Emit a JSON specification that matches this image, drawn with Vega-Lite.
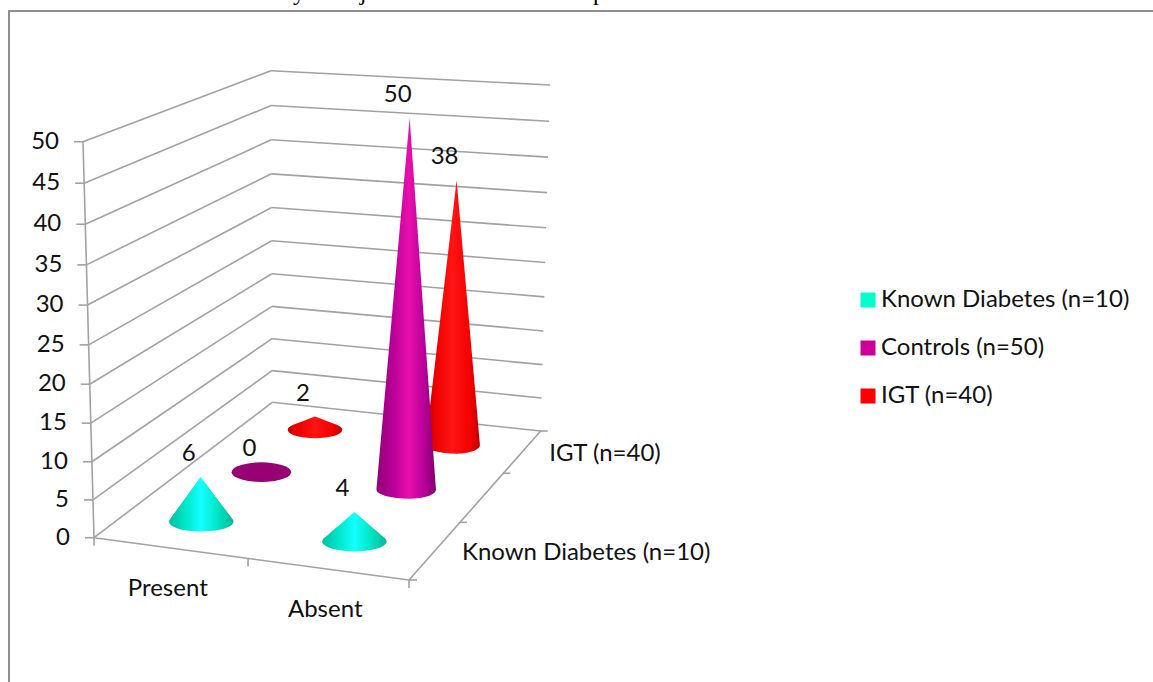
{
  "$schema": "https://vega.github.io/schema/vega-lite/v6.json",
  "width": 1163,
  "height": 682,
  "padding": {"left": 9, "top": 11, "right": -19, "bottom": -11},
  "autosize": {"type": "none"},
  "background": "white",
  "config": {
    "view": {"stroke": "#8f8f8f", "strokeWidth": 2, "fill": null},
    "text": {"font": "Lato", "fontSize": 24, "fill": "#111111"}
  },
  "datasets": {
    "cones": [
      {"category": "Present", "series": "Known Diabetes (n=10)", "value": 6},
      {"category": "Absent", "series": "Known Diabetes (n=10)", "value": 4},
      {"category": "Present", "series": "Controls (n=50)", "value": 0},
      {"category": "Absent", "series": "Controls (n=50)", "value": 50},
      {"category": "Present", "series": "IGT (n=40)", "value": 2},
      {"category": "Absent", "series": "IGT (n=40)", "value": 38}
    ],
    "valueTicks": [
      {"tick": 0}, {"tick": 5}, {"tick": 10}, {"tick": 15}, {"tick": 20}, {"tick": 25},
      {"tick": 30}, {"tick": 35}, {"tick": 40}, {"tick": 45}, {"tick": 50}
    ],
    "categoryTicks": [{"edge": 0}, {"edge": 0.489}, {"edge": 1}],
    "depthTicks": [{"depth": 1}, {"depth": 2}, {"depth": 3}],
    "categoryLabels": [
      {"label": "Present", "u": 0.25},
      {"label": "Absent", "u": 0.75}
    ],
    "depthLabels": [
      {"label": "Known Diabetes (n=10)", "depth": 0.5},
      {"label": "IGT (n=40)", "depth": 2.5}
    ],
    "captionGlyphs": [
      {"glyph": "y", "pos": 300},
      {"glyph": "j", "pos": 364},
      {"glyph": "p", "pos": 600}
    ]
  },
  "layer": [
    {
      "data": {"name": "cones"},
      "transform": [
        {"calculate": "datum.category === 'Present' ? 0.24 : 0.74", "as": "u"},
        {"calculate": "datum.series === 'Known Diabetes (n=10)' ? 0.5 : datum.series === 'Controls (n=50)' ? 1.5 : 2.5", "as": "v"},
        {"calculate": "0.4208 * datum.v / (1 + 0.0875 * datum.v) - 0.012", "as": "t"},
        {"calculate": "95 + 315 * datum.u + (178.3 - 46.6 * datum.u) * datum.t + 6 * pow(datum.t, 4)", "as": "cx"},
        {"calculate": "537.7 + 42.3 * datum.u + (-135.4 - 13.6 * datum.u) * datum.t", "as": "cy"}
      ],
      "mark": {"type": "square", "size": 4, "opacity": 1, "filled": true},
      "encoding": {
        "x": {"field": "cx", "type": "quantitative", "scale": {"domain": [10, 1173], "nice": false, "zero": false}, "axis": null},
        "y": {"field": "cy", "type": "quantitative", "scale": {"domain": [11, 693], "reverse": true, "nice": false, "zero": false}, "axis": null},
        "color": {
          "field": "series",
          "type": "nominal",
          "scale": {
            "domain": ["Known Diabetes (n=10)", "Controls (n=50)", "IGT (n=40)"],
            "range": ["#00ffcc", "#cc0099", "#ff0000"]
          },
          "legend": {
            "orient": "none",
            "legendX": 847,
            "legendY": 277,
            "title": null,
            "symbolType": "square",
            "symbolSize": 225,
            "symbolStrokeWidth": 0,
            "symbolOpacity": 1,
            "labelFont": "Lato",
            "labelFontSize": 24,
            "labelColor": "#111111",
            "labelOffset": 1,
            "rowPadding": 24,
            "labelLimit": 320
          }
        }
      }
    },
    {
      "data": {"name": "valueTicks"},
      "transform": [
        {"calculate": "0.9493 * (datum.tick / 50) / (1 - 0.0507 * datum.tick / 50)", "as": "lift"},
        {"calculate": "95 - 11 * datum.lift", "as": "fx"},
        {"calculate": "537.7 - 396 * datum.lift", "as": "fy"},
        {"calculate": "273.3 - 1.3 * datum.lift", "as": "bx"},
        {"calculate": "402.3 - 331.6 * datum.lift", "as": "by"}
      ],
      "mark": {"type": "rule", "color": "#a2a2a2", "strokeWidth": 1.6},
      "encoding": {
        "x": {"field": "fx", "type": "quantitative"},
        "y": {"field": "fy", "type": "quantitative"},
        "x2": {"field": "bx"},
        "y2": {"field": "by"}
      }
    },
    {
      "data": {"name": "valueTicks"},
      "transform": [
        {"calculate": "0.9493 * (datum.tick / 50) / (1 - 0.0507 * datum.tick / 50)", "as": "lift"},
        {"calculate": "273.3 - 1.3 * datum.lift", "as": "bx"},
        {"calculate": "402.3 - 331.6 * datum.lift", "as": "by"},
        {"calculate": "541.7 + 9.3 * datum.lift", "as": "rx"},
        {"calculate": "431 - 346 * datum.lift", "as": "ry"}
      ],
      "mark": {"type": "rule", "color": "#a2a2a2", "strokeWidth": 1.6},
      "encoding": {
        "x": {"field": "bx", "type": "quantitative"},
        "y": {"field": "by", "type": "quantitative"},
        "x2": {"field": "rx"},
        "y2": {"field": "ry"}
      }
    },
    {
      "data": {"name": "valueTicks"},
      "transform": [
        {"calculate": "0.9493 * (datum.tick / 50) / (1 - 0.0507 * datum.tick / 50)", "as": "lift"},
        {"calculate": "95 - 11 * datum.lift", "as": "fx"},
        {"calculate": "537.7 - 396 * datum.lift", "as": "fy"},
        {"calculate": "datum.fx - 9", "as": "tx"}
      ],
      "mark": {"type": "rule", "color": "#a2a2a2", "strokeWidth": 1.6},
      "encoding": {
        "x": {"field": "tx", "type": "quantitative"},
        "y": {"field": "fy", "type": "quantitative"},
        "x2": {"field": "fx"}
      }
    },
    {
      "data": {"name": "valueTicks"},
      "transform": [
        {"filter": "datum.tick === 0"},
        {"calculate": "95", "as": "fx"},
        {"calculate": "84", "as": "topx"},
        {"calculate": "537.7", "as": "fy"},
        {"calculate": "141.7", "as": "topy"}
      ],
      "mark": {"type": "rule", "color": "#a2a2a2", "strokeWidth": 1.6},
      "encoding": {
        "x": {"field": "fx", "type": "quantitative"},
        "y": {"field": "fy", "type": "quantitative"},
        "x2": {"field": "topx"},
        "y2": {"field": "topy"}
      }
    },
    {
      "data": {"name": "valueTicks"},
      "transform": [
        {"filter": "datum.tick === 0"},
        {"calculate": "95", "as": "ax"},
        {"calculate": "410", "as": "bx"},
        {"calculate": "537.7", "as": "ay"},
        {"calculate": "580", "as": "by"}
      ],
      "mark": {"type": "rule", "color": "#a2a2a2", "strokeWidth": 1.6},
      "encoding": {
        "x": {"field": "ax", "type": "quantitative"},
        "y": {"field": "ay", "type": "quantitative"},
        "x2": {"field": "bx"},
        "y2": {"field": "by"}
      }
    },
    {
      "data": {"name": "valueTicks"},
      "transform": [
        {"filter": "datum.tick === 0"},
        {"calculate": "410", "as": "bx"},
        {"calculate": "541.7", "as": "cx"},
        {"calculate": "580", "as": "by"},
        {"calculate": "431", "as": "cy"}
      ],
      "mark": {"type": "rule", "color": "#a2a2a2", "strokeWidth": 1.6},
      "encoding": {
        "x": {"field": "bx", "type": "quantitative"},
        "y": {"field": "by", "type": "quantitative"},
        "x2": {"field": "cx"},
        "y2": {"field": "cy"}
      }
    },
    {
      "data": {"name": "categoryTicks"},
      "transform": [
        {"calculate": "95 + 315 * datum.edge", "as": "ex"},
        {"calculate": "537.7 + 42.3 * datum.edge", "as": "ey"},
        {"calculate": "datum.ey + 8", "as": "ey2"}
      ],
      "mark": {"type": "rule", "color": "#a2a2a2", "strokeWidth": 1.6},
      "encoding": {
        "x": {"field": "ex", "type": "quantitative"},
        "y": {"field": "ey", "type": "quantitative"},
        "y2": {"field": "ey2"}
      }
    },
    {
      "data": {"name": "depthTicks"},
      "transform": [
        {"calculate": "0.4208 * datum.depth / (1 + 0.0875 * datum.depth)", "as": "t"},
        {"calculate": "410 + 131.7 * datum.t", "as": "ex"},
        {"calculate": "580 - 149 * datum.t", "as": "ey"},
        {"calculate": "datum.ex + 7", "as": "ex2"}
      ],
      "mark": {"type": "rule", "color": "#a2a2a2", "strokeWidth": 1.6},
      "encoding": {
        "x": {"field": "ex", "type": "quantitative"},
        "y": {"field": "ey", "type": "quantitative"},
        "x2": {"field": "ex2"}
      }
    },
    {
      "data": {"name": "valueTicks"},
      "transform": [
        {"filter": "datum.tick === 0"},
        {"calculate": "410", "as": "ex"},
        {"calculate": "580", "as": "ey"},
        {"calculate": "418", "as": "ex2"}
      ],
      "mark": {"type": "rule", "color": "#a2a2a2", "strokeWidth": 1.6},
      "encoding": {
        "x": {"field": "ex", "type": "quantitative"},
        "y": {"field": "ey", "type": "quantitative"},
        "x2": {"field": "ex2"}
      }
    },
    {
      "data": {"name": "cones"},
      "transform": [
        {"filter": "datum.series === 'IGT (n=40)' && datum.value > 0"},
        {"calculate": "datum.category === 'Present' ? 0.24 : 0.74", "as": "u"},
        {"calculate": "2.5", "as": "v"},
        {"calculate": "0.4208 * datum.v / (1 + 0.0875 * datum.v) - 0.012", "as": "t"},
        {"calculate": "95 + 315 * datum.u + (178.3 - 46.6 * datum.u) * datum.t + 6 * pow(datum.t, 4)", "as": "cx"},
        {"calculate": "537.7 + 42.3 * datum.u + (-135.4 - 13.6 * datum.u) * datum.t", "as": "cy"},
        {"calculate": "33.5 - 2.5 * datum.v", "as": "hw"},
        {"calculate": "0.31 * datum.hw", "as": "hh"},
        {"calculate": "0.9493 * (datum.value / 50) / (1 - 0.0507 * datum.value / 50)", "as": "lift"},
        {"calculate": "(396 - 11 * datum.u + (-64.4 + 25.4 * datum.u) * pow(datum.t, 1.7)) * datum.lift", "as": "H"},
        {"calculate": "(-11 + 15.3 * datum.u + (9 - 4.3 * datum.u) * datum.t) * datum.lift", "as": "lean"},
        {"calculate": "datum.H / datum.hh", "as": "d"},
        {"calculate": "sqrt(1 - 1 / (datum.d * datum.d))", "as": "s0"},
        {"calculate": "[-1,-0.985,-0.95,-0.9,-0.8,-0.75,-0.65,-0.45,-0.2,0,0.2,0.45,0.65,0.75,0.8,0.9,0.95,0.985,1]", "as": "s"},
        {"flatten": ["s"]},
        {"calculate": "datum.cx + datum.lean * (1 - abs(datum.s)) + datum.s * datum.hw", "as": "px"},
        {"calculate": "abs(datum.s) < datum.s0 ? datum.cy - datum.H + (datum.H - datum.hh / datum.d) * abs(datum.s) / datum.s0 : datum.cy - datum.hh * sqrt(1 - datum.s * datum.s)", "as": "ptop"},
        {"calculate": "datum.cy + datum.hh * sqrt(1 - datum.s * datum.s)", "as": "pbot"}
      ],
      "mark": {
        "type": "area",
        "interpolate": "linear",
        "line": false,
        "fill": {
          "gradient": "linear", "x1": 0, "x2": 1, "y1": 0, "y2": 0,
          "stops": [
            {"offset": 0, "color": "#c40000"},
            {"offset": 0.18, "color": "#ec0000"},
            {"offset": 0.5, "color": "#ff1414"},
            {"offset": 0.82, "color": "#f40000"},
            {"offset": 1, "color": "#c00000"}
          ]
        }
      },
      "encoding": {
        "x": {"field": "px", "type": "quantitative"},
        "y": {"field": "ptop", "type": "quantitative"},
        "y2": {"field": "pbot"},
        "detail": {"field": "category"}
      }
    },
    {
      "data": {"name": "cones"},
      "transform": [
        {"filter": "datum.series === 'Controls (n=50)' && datum.value === 0"},
        {"calculate": "datum.category === 'Present' ? 0.24 : 0.74", "as": "u"},
        {"calculate": "1.5", "as": "v"},
        {"calculate": "0.4208 * datum.v / (1 + 0.0875 * datum.v) - 0.012", "as": "t"},
        {"calculate": "95 + 315 * datum.u + (178.3 - 46.6 * datum.u) * datum.t + 6 * pow(datum.t, 4)", "as": "cx"},
        {"calculate": "537.7 + 42.3 * datum.u + (-135.4 - 13.6 * datum.u) * datum.t", "as": "cy"},
        {"calculate": "33.5 - 2.5 * datum.v", "as": "hw"},
        {"calculate": "0.33 * datum.hw", "as": "hh"},
        {"calculate": "[-1,-0.985,-0.95,-0.9,-0.8,-0.65,-0.45,-0.2,0,0.2,0.45,0.65,0.8,0.9,0.95,0.985,1]", "as": "s"},
        {"flatten": ["s"]},
        {"calculate": "datum.cx + datum.s * datum.hw", "as": "px"},
        {"calculate": "datum.cy - datum.hh * sqrt(1 - datum.s * datum.s)", "as": "ptop"},
        {"calculate": "datum.cy + datum.hh * sqrt(1 - datum.s * datum.s)", "as": "pbot"}
      ],
      "mark": {"type": "area", "interpolate": "linear", "line": false, "fill": "#990073"},
      "encoding": {
        "x": {"field": "px", "type": "quantitative"},
        "y": {"field": "ptop", "type": "quantitative"},
        "y2": {"field": "pbot"},
        "detail": {"field": "category"}
      }
    },
    {
      "data": {"name": "cones"},
      "transform": [
        {"filter": "datum.series === 'Controls (n=50)' && datum.value > 0"},
        {"calculate": "datum.category === 'Present' ? 0.24 : 0.74", "as": "u"},
        {"calculate": "1.5", "as": "v"},
        {"calculate": "0.4208 * datum.v / (1 + 0.0875 * datum.v) - 0.012", "as": "t"},
        {"calculate": "95 + 315 * datum.u + (178.3 - 46.6 * datum.u) * datum.t + 6 * pow(datum.t, 4)", "as": "cx"},
        {"calculate": "537.7 + 42.3 * datum.u + (-135.4 - 13.6 * datum.u) * datum.t", "as": "cy"},
        {"calculate": "33.5 - 2.5 * datum.v", "as": "hw"},
        {"calculate": "0.31 * datum.hw", "as": "hh"},
        {"calculate": "0.9493 * (datum.value / 50) / (1 - 0.0507 * datum.value / 50)", "as": "lift"},
        {"calculate": "(396 - 11 * datum.u + (-64.4 + 25.4 * datum.u) * pow(datum.t, 1.7)) * datum.lift", "as": "H"},
        {"calculate": "(-11 + 15.3 * datum.u + (9 - 4.3 * datum.u) * datum.t) * datum.lift", "as": "lean"},
        {"calculate": "datum.H / datum.hh", "as": "d"},
        {"calculate": "sqrt(1 - 1 / (datum.d * datum.d))", "as": "s0"},
        {"calculate": "[-1,-0.985,-0.95,-0.9,-0.8,-0.75,-0.65,-0.45,-0.2,0,0.2,0.45,0.65,0.75,0.8,0.9,0.95,0.985,1]", "as": "s"},
        {"flatten": ["s"]},
        {"calculate": "datum.cx + datum.lean * (1 - abs(datum.s)) + datum.s * datum.hw", "as": "px"},
        {"calculate": "abs(datum.s) < datum.s0 ? datum.cy - datum.H + (datum.H - datum.hh / datum.d) * abs(datum.s) / datum.s0 : datum.cy - datum.hh * sqrt(1 - datum.s * datum.s)", "as": "ptop"},
        {"calculate": "datum.cy + datum.hh * sqrt(1 - datum.s * datum.s)", "as": "pbot"}
      ],
      "mark": {
        "type": "area",
        "interpolate": "linear",
        "line": false,
        "fill": {
          "gradient": "linear", "x1": 0, "x2": 1, "y1": 0, "y2": 0,
          "stops": [
            {"offset": 0, "color": "#8f0078"},
            {"offset": 0.3, "color": "#bd009a"},
            {"offset": 0.55, "color": "#e810ac"},
            {"offset": 0.8, "color": "#b8009a"},
            {"offset": 1, "color": "#7f006a"}
          ]
        }
      },
      "encoding": {
        "x": {"field": "px", "type": "quantitative"},
        "y": {"field": "ptop", "type": "quantitative"},
        "y2": {"field": "pbot"},
        "detail": {"field": "category"}
      }
    },
    {
      "data": {"name": "cones"},
      "transform": [
        {"filter": "datum.series === 'Known Diabetes (n=10)' && datum.value > 0"},
        {"calculate": "datum.category === 'Present' ? 0.24 : 0.74", "as": "u"},
        {"calculate": "0.5", "as": "v"},
        {"calculate": "0.4208 * datum.v / (1 + 0.0875 * datum.v) - 0.012", "as": "t"},
        {"calculate": "95 + 315 * datum.u + (178.3 - 46.6 * datum.u) * datum.t + 6 * pow(datum.t, 4)", "as": "cx"},
        {"calculate": "537.7 + 42.3 * datum.u + (-135.4 - 13.6 * datum.u) * datum.t", "as": "cy"},
        {"calculate": "33.5 - 2.5 * datum.v", "as": "hw"},
        {"calculate": "0.31 * datum.hw", "as": "hh"},
        {"calculate": "0.9493 * (datum.value / 50) / (1 - 0.0507 * datum.value / 50)", "as": "lift"},
        {"calculate": "(396 - 11 * datum.u + (-64.4 + 25.4 * datum.u) * pow(datum.t, 1.7)) * datum.lift", "as": "H"},
        {"calculate": "(-11 + 15.3 * datum.u + (9 - 4.3 * datum.u) * datum.t) * datum.lift", "as": "lean"},
        {"calculate": "datum.H / datum.hh", "as": "d"},
        {"calculate": "sqrt(1 - 1 / (datum.d * datum.d))", "as": "s0"},
        {"calculate": "[-1,-0.985,-0.95,-0.9,-0.8,-0.75,-0.65,-0.45,-0.2,0,0.2,0.45,0.65,0.75,0.8,0.9,0.95,0.985,1]", "as": "s"},
        {"flatten": ["s"]},
        {"calculate": "datum.cx + datum.lean * (1 - abs(datum.s)) + datum.s * datum.hw", "as": "px"},
        {"calculate": "abs(datum.s) < datum.s0 ? datum.cy - datum.H + (datum.H - datum.hh / datum.d) * abs(datum.s) / datum.s0 : datum.cy - datum.hh * sqrt(1 - datum.s * datum.s)", "as": "ptop"},
        {"calculate": "datum.cy + datum.hh * sqrt(1 - datum.s * datum.s)", "as": "pbot"}
      ],
      "mark": {
        "type": "area",
        "interpolate": "linear",
        "line": false,
        "fill": {
          "gradient": "linear", "x1": 0, "x2": 1, "y1": 0, "y2": 0,
          "stops": [
            {"offset": 0, "color": "#00bfa0"},
            {"offset": 0.25, "color": "#00e6c6"},
            {"offset": 0.5, "color": "#14ffff"},
            {"offset": 0.75, "color": "#00e6c6"},
            {"offset": 1, "color": "#00b89a"}
          ]
        }
      },
      "encoding": {
        "x": {"field": "px", "type": "quantitative"},
        "y": {"field": "ptop", "type": "quantitative"},
        "y2": {"field": "pbot"},
        "detail": {"field": "category"}
      }
    },
    {
      "data": {"name": "cones"},
      "transform": [
        {"calculate": "datum.category === 'Present' ? 0.24 : 0.74", "as": "u"},
        {"calculate": "datum.series === 'Known Diabetes (n=10)' ? 0.5 : datum.series === 'Controls (n=50)' ? 1.5 : 2.5", "as": "v"},
        {"calculate": "0.4208 * datum.v / (1 + 0.0875 * datum.v) - 0.012", "as": "t"},
        {"calculate": "95 + 315 * datum.u + (178.3 - 46.6 * datum.u) * datum.t + 6 * pow(datum.t, 4)", "as": "cx"},
        {"calculate": "537.7 + 42.3 * datum.u + (-135.4 - 13.6 * datum.u) * datum.t", "as": "cy"},
        {"calculate": "0.9493 * (datum.value / 50) / (1 - 0.0507 * datum.value / 50)", "as": "lift"},
        {"calculate": "(396 - 11 * datum.u + (-64.4 + 25.4 * datum.u) * pow(datum.t, 1.7)) * datum.lift", "as": "H"},
        {"calculate": "(-11 + 15.3 * datum.u + (9 - 4.3 * datum.u) * datum.t) * datum.lift", "as": "lean"},
        {"calculate": "datum.cx + datum.lean - 12", "as": "lx"},
        {"calculate": "datum.cy - datum.H - 23", "as": "ly"}
      ],
      "mark": {"type": "text", "align": "center", "baseline": "middle"},
      "encoding": {
        "x": {"field": "lx", "type": "quantitative"},
        "y": {"field": "ly", "type": "quantitative"},
        "text": {"field": "value", "type": "quantitative"}
      }
    },
    {
      "data": {"name": "valueTicks"},
      "transform": [
        {"calculate": "0.9493 * (datum.tick / 50) / (1 - 0.0507 * datum.tick / 50)", "as": "lift"},
        {"calculate": "95 - 11 * datum.lift - 24", "as": "lx"},
        {"calculate": "537.7 - 396 * datum.lift", "as": "ly"}
      ],
      "mark": {"type": "text", "align": "right", "baseline": "middle"},
      "encoding": {
        "x": {"field": "lx", "type": "quantitative"},
        "y": {"field": "ly", "type": "quantitative"},
        "text": {"field": "tick", "type": "quantitative"}
      }
    },
    {
      "data": {"name": "categoryLabels"},
      "transform": [
        {"calculate": "95 + 315 * datum.u - 5", "as": "lx"},
        {"calculate": "537.7 + 42.3 * datum.u + 40.5", "as": "ly"}
      ],
      "mark": {"type": "text", "align": "center", "baseline": "middle"},
      "encoding": {
        "x": {"field": "lx", "type": "quantitative"},
        "y": {"field": "ly", "type": "quantitative"},
        "text": {"field": "label", "type": "nominal"}
      }
    },
    {
      "data": {"name": "depthLabels"},
      "transform": [
        {"calculate": "0.4208 * datum.depth / (1 + 0.0875 * datum.depth)", "as": "t"},
        {"calculate": "410 + 131.7 * datum.t + 26.5", "as": "lx"},
        {"calculate": "580 - 149 * datum.t + 3", "as": "ly"}
      ],
      "mark": {"type": "text", "align": "left", "baseline": "middle"},
      "encoding": {
        "x": {"field": "lx", "type": "quantitative"},
        "y": {"field": "ly", "type": "quantitative"},
        "text": {"field": "label", "type": "nominal"}
      }
    },
    {
      "data": {"name": "captionGlyphs"},
      "transform": [{"calculate": "0", "as": "baseline"}],
      "mark": {"type": "text", "font": "Liberation Serif", "fontSize": 24, "fill": "#000000", "align": "center", "baseline": "alphabetic"},
      "encoding": {
        "x": {"field": "pos", "type": "quantitative"},
        "y": {"field": "baseline", "type": "quantitative"},
        "text": {"field": "glyph", "type": "nominal"}
      }
    }
  ]
}
